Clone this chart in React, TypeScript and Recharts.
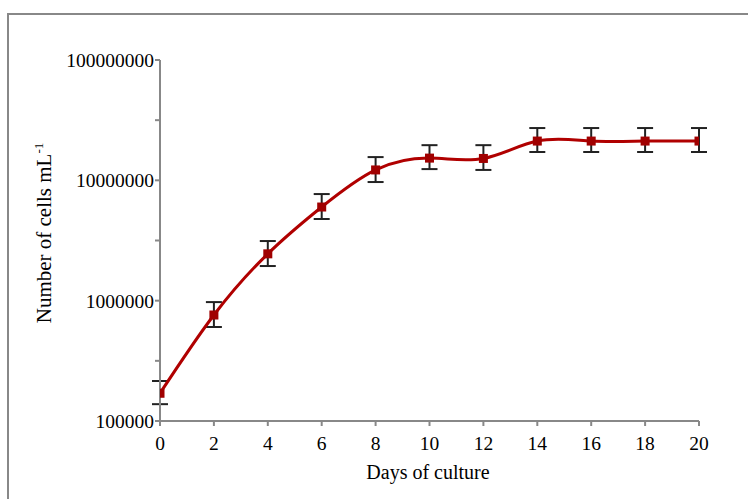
import {
  LineChart,
  Line,
  XAxis,
  YAxis,
  ErrorBar,
  Label,
} from "recharts";

// Days of culture
const days = [0, 2, 4, 6, 8, 10, 12, 14, 16, 18, 20];
// cell density (cells/mL)
const cells = [
  170000, 760000, 2450000, 6000000, 12200000, 15300000, 15200000, 21200000,
  21200000, 21200000, 21200000,
];
// error bar ends
const lowerBound = [
  138000, 604000, 1940000, 4770000, 9680000, 12400000, 12200000, 17200000,
  17200000, 17200000, 17200000,
];
const upperBound = [
  215000, 973000, 3130000, 7690000, 15600000, 19600000, 19600000, 27200000,
  27200000, 27200000, 27200000,
];

const xTicks = [0, 2, 4, 6, 8, 10, 12, 14, 16, 18, 20];
const yTicks = [
  100000, 316228, 1000000, 3162278, 10000000, 31622777, 100000000,
];
const yLabelled = [100000, 1000000, 10000000, 100000000];

const data = days.map((d, i) => ({
  day: d,
  cells: cells[i],
  err: [cells[i] - lowerBound[i], upperBound[i] - cells[i]],
}));

const FONT = "'Liberation Serif', 'Times New Roman', serif";
const AXIS = "#888888";
const RED = "#b00000";

function SquareDot(props: any) {
  const { cx, cy, index } = props;
  if (cx == null || cy == null) return null;
  return (
    <rect
      key={`dot-${index}`}
      x={cx - 4.5}
      y={cy - 4.5}
      width={9}
      height={9}
      fill="#a00000"
    />
  );
}

export default function App() {
  return (
    <div
      style={{
        position: "absolute",
        left: 0,
        top: 0,
        width: 748,
        height: 499,
        background: "#fff",
        overflow: "hidden",
      }}
    >
      <div
        style={{
          position: "absolute",
          left: 7,
          top: 13,
          width: 760,
          height: 520,
          borderTop: `2px solid ${AXIS}`,
          borderLeft: `2px solid ${AXIS}`,
        }}
      />
      <LineChart
        width={748}
        height={499}
        data={data}
        margin={{ top: 60, right: 49, bottom: 48, left: 0 }}
        style={{ position: "absolute", left: 0, top: 0 }}
      >
        <XAxis
          dataKey="day"
          type="number"
          domain={[0, 20]}
          allowDataOverflow
          ticks={xTicks}
          height={30}
          tickSize={5}
          tickMargin={10}
          stroke={AXIS}
          strokeWidth={2}
          tick={{ fill: "#000", fontSize: 19.5, fontFamily: FONT }}
        >
          <Label
            content={() => (
              <text
                x={428}
                y={479}
                textAnchor="middle"
                fontSize={20}
                fontFamily={FONT}
                fill="#000"
              >
                Days of culture
              </text>
            )}
          />
        </XAxis>
        <YAxis
          scale="log"
          domain={[100000, 100000000]}
          allowDataOverflow
          ticks={yTicks}
          width={160}
          tickSize={5}
          tickMargin={1}
          stroke={AXIS}
          strokeWidth={2}
          interval={0}
          tickFormatter={(v: number) =>
            yLabelled.includes(v) ? String(v) : ""
          }
          tick={{ fill: "#000", fontSize: 19.5, fontFamily: FONT }}
        >
          <Label
            content={() => (
              <text
                transform="translate(51 233) rotate(-90)"
                textAnchor="middle"
                fontSize={21}
                fontFamily={FONT}
                fill="#000"
              >
                Number of cells mL
                <tspan dy={-8} fontSize={13}>
                  -1
                </tspan>
              </text>
            )}
          />
        </YAxis>
        <Line
          type="natural"
          dataKey="cells"
          stroke={RED}
          strokeWidth={3}
          dot={SquareDot}
          activeDot={false}
          isAnimationActive={false}
        >
          <ErrorBar
            dataKey="err"
            direction="y"
            width={8}
            strokeWidth={2}
            stroke="#222"
            isAnimationActive={false}
          />
        </Line>
      </LineChart>
    </div>
  );
}
